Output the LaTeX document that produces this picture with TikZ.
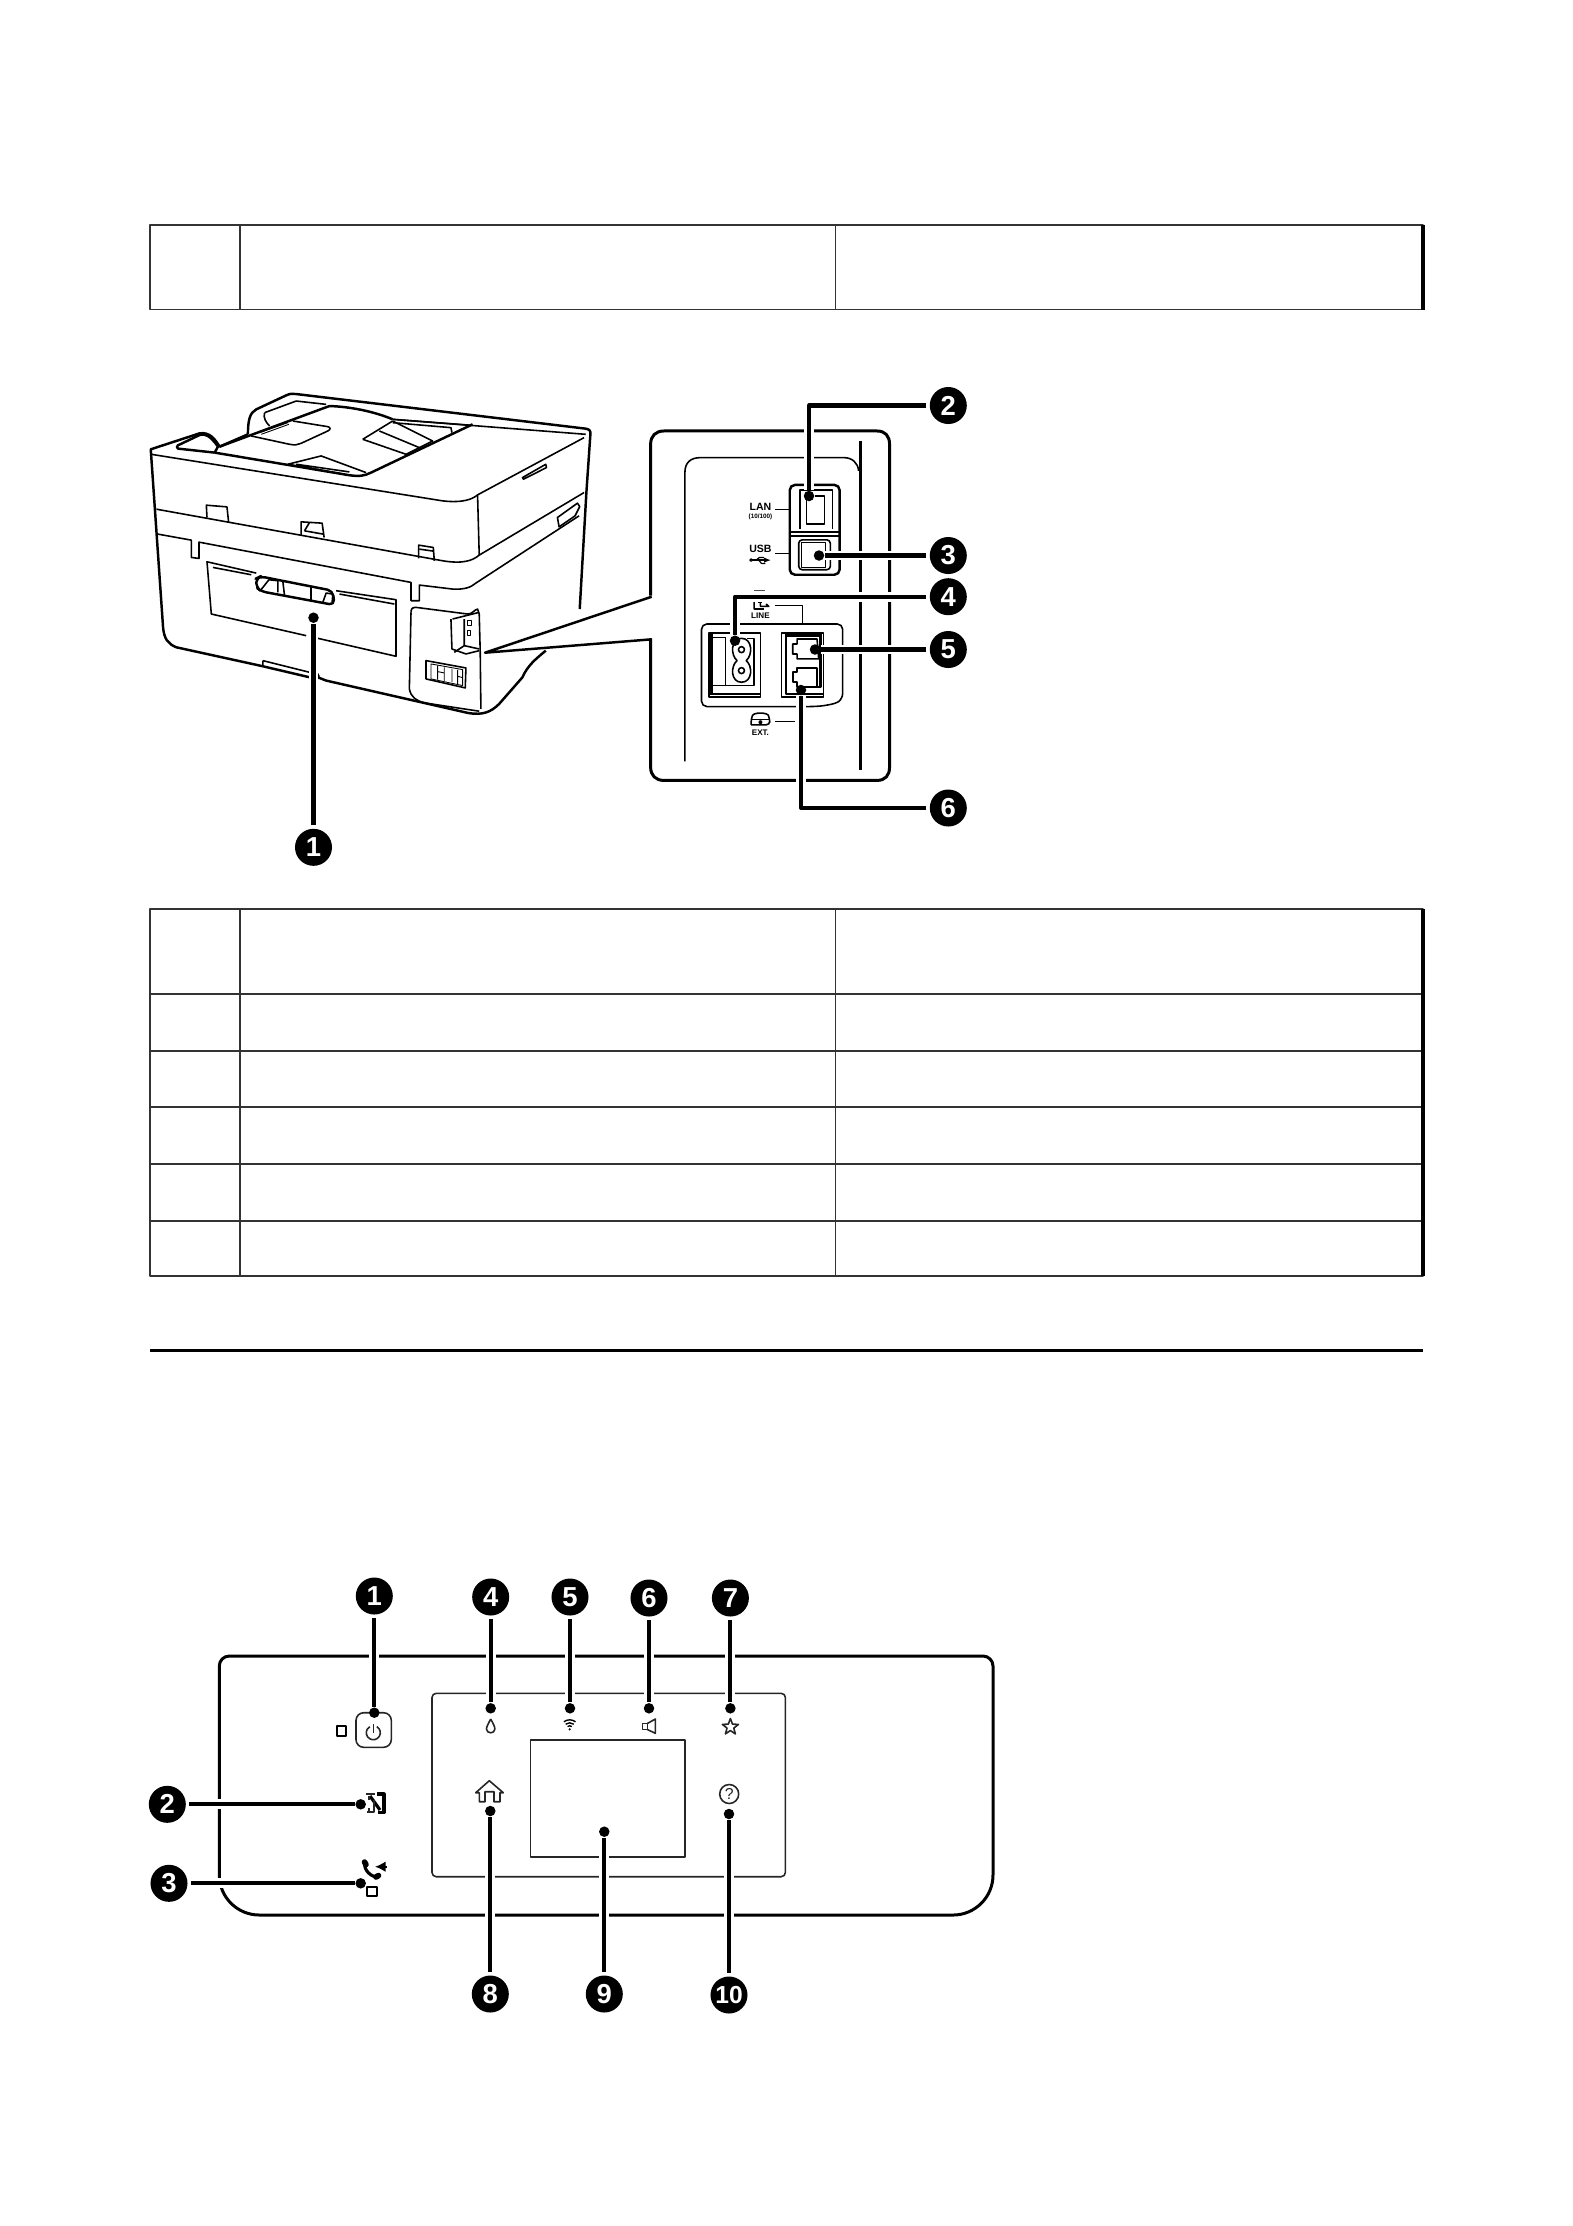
\documentclass[tikz,border=0pt]{standalone}
\usepackage{fontspec}
\setmainfont{Liberation Sans}
\usetikzlibrary{shapes.geometric, arrows.meta, positioning}

\begin{document}
\begin{tikzpicture}[x=0.01cm, y=-0.01cm, line join=round,
    badge/.style={circle, fill=black, text=white, inner sep=0pt, minimum size=0.37cm, outer sep=1pt, font=\fontsize{7.8}{7.8}\selectfont\bfseries},
    spot/.style={circle, fill=black, inner sep=0pt, minimum size=0.105cm},
    leader/.style={line width=1.15pt, preaction={draw=white, line width=2.8pt}},
    tblline/.style={line width=0.5pt, black!80},
    heavy/.style={line width=0.85pt},
    panelline/.style={line width=0.45pt, black!85},
    prn/.style={line width=0.45pt},
    prnthin/.style={line width=0.25pt},
    prnthick/.style={line width=0.7pt},
    tick/.style={line width=0.35pt},
    portlabel/.style={inner sep=0pt, font=\fontsize{3}{3}\selectfont\bfseries}]
    \useasboundingbox (0,0) rectangle (1573,2226);
    % Tables
    \draw[tblline] (150,224.7) rectangle (1423,309.5);
    \draw[tblline] (239.7,224.7) -- (239.7,309.5) (835.5,224.7) -- (835.5,309.5);
    \draw[tblline] (150,908.7) rectangle (1423,1276.3);
    \foreach \rowy in {994.3,1051,1106.7,1163.7,1220.7} {
        \draw[tblline] (150,\rowy) -- (1423,\rowy);
    }
    \draw[tblline] (239.7,908.7) -- (239.7,1276.3) (835.5,908.7) -- (835.5,1276.3);
    \draw[line width=0.9pt] (1423,224.7) -- (1423,309.5) (1423,908.7) -- (1423,1276.3);
    \draw[line width=0.85pt] (150,1350.5) -- (1423,1350.5);
    % Printer
    \begin{scope}[x=0.003333cm, y=-0.003333cm, shift={(390,1110)}]
        % Outline
        \draw[prnthick] (1352,720) -- (1372,370) -- (1384,195) .. controls (1385,185) and (1382,180) .. (1370,178) -- (500,74) .. controls (490,72) and (480,73) .. (470,78) -- (380,120) .. controls (360,130) and (355,155) .. (355,195);
        \draw[prnthick] (355,195) -- (270,232) .. controls (255,208) and (240,188) .. (210,192) -- (63,240) -- (100,775) .. controls (103,810) and (115,825) .. (140,835) -- (400,892);
        \draw[prnthick] (400,892) -- (540,925);
        \draw[prnthick] (565,925) -- (590,935) -- (1015,1032) .. controls (1060,1040) and (1085,1030) .. (1110,1005) -- (1180,925) .. controls (1195,890) and (1220,870) .. (1250,845);
        % Lid
        \draw[prn] (64,255) -- (940,395) .. controls (1000,402) and (1030,390) .. (1045,377) -- (1365,205);
        \draw[prn] (1045,377) -- (1050,558);
        \draw[prn] (80,420) -- (940,575) .. controls (1000,585) and (1030,575) .. (1050,558) -- (1365,370);
        \draw[prn] (85,495) -- (185,513) -- (185,565) -- (208,568) -- (208,519) -- (845,640) -- (845,695) -- (870,695) -- (870,648) -- (970,660) .. controls (1005,662) and (1025,655) .. (1040,642) -- (1350,440);
        \draw[prn] (790,150) -- (1370,195);
        % Handle on the side
        \draw[prn] (1285,445) -- (1345,402) -- (1352,412) -- (1338,440) -- (1290,473) -- cycle;
        \draw[prn] (1180,325) -- (1250,285) -- (1252,295) -- (1183,330) -- cycle;
        % Document tray
        \draw[prnthick] (255,250) -- (145,238) .. controls (140,235) and (140,230) .. (145,228) -- (210,197) .. controls (225,192) and (240,197) .. (265,232) -- (255,250);
        \draw[prnthick] (255,250) -- (660,318) .. controls (690,322) and (705,320) .. (725,310) -- (1030,165);
        \draw[prnthick] (270,232) -- (600,110) .. controls (660,112) and (730,125) .. (790,150);
        \draw[prn] (790,150) -- (1028,168) (790,160) -- (965,175) -- (968,190);
        \draw[prn] (405,130) -- (500,95) -- (590,105);
        \draw[prn] (405,130) .. controls (400,145) and (410,160) .. (420,170);
        \draw[prnthin] (390,190) -- (475,160) (395,195) -- (478,165);
        \draw[prn] (365,200) -- (480,225) .. controls (495,228) and (505,227) .. (515,222) -- (595,185) .. controls (605,180) and (603,174) .. (595,172) -- (490,155);
        \draw[prn] (700,210) -- (790,155);
        \draw[prn] (700,210) -- (830,255) -- (910,215) -- (790,155);
        \draw[prn] (750,185) -- (870,235);
        \draw[prn] (475,285) -- (575,260) -- (710,310);
        \draw[prn] (475,285) -- (660,318) (500,285) -- (660,308);
        % Tabs
        \draw[prn] (232,445) -- (230,408) -- (292,413) -- (297,460);
        \draw[prn] (515,497) -- (515,458) -- (578,462) -- (584,505);
        \draw[prn] (525,485) -- (540,460);
        \draw[prn] (525,485) -- (582,495);
        \draw[prn] (868,568) -- (868,528) -- (912,535) -- (915,575);
        \draw[prn] (870,540) -- (912,546);
        % Cover and its grip
        \draw[prn] (380,612) -- (232,578) -- (245,735) -- (530,800);
        \draw[prn] (565,808) -- (800,862) -- (800,692) -- (620,665);
        \draw[prn] (250,595) -- (365,617);
        \draw[prn] (630,675) -- (795,705);
        \draw[prnthick, rounded corners=1.5pt] (380,628) -- (392,622) -- (610,665) -- (615,708) -- (395,667) -- (380,655) -- cycle;
        \draw[prn] (392,665) -- (418,632) -- (445,635) -- (445,670);
        \draw[prn] (460,638) -- (465,680);
        \draw[prn] (545,655) -- (545,695);
        \draw[prn] (580,700) -- (590,672) -- (610,675) -- (608,700);
        % Foot
        \draw[prn] (400,875) -- (540,910) (400,875) -- (400,890);
        \draw[prn] (563,912) .. controls (570,918) and (570,925) .. (565,930);
        % Port area
        \draw[prn] (845,730) .. controls (845,718) and (850,715) .. (860,715) -- (1015,735) .. controls (1030,735) and (1035,722) .. (1045,720) -- (1050,735) -- (1053,850) -- (1055,1020);
        \draw[prn] (845,730) -- (840,960) .. controls (845,985) and (860,995) .. (885,1002) -- (1050,1027);
        \draw[prn] (970,750) -- (1050,730);
        \draw[prn] (965,750) -- (968,840) -- (1010,855) -- (1050,845);
        \draw[prn] (1005,750) -- (1005,830) -- (975,850);
        \draw[prn] (1005,830) -- (1050,840);
        \draw[prnthin] (1015,755) rectangle (1028,770) (1015,785) rectangle (1025,800);
        \draw[prn] (890,875) -- (1010,897) -- (1008,957) -- (890,930) -- cycle;
        \draw[prnthin] (905,885) -- (905,930) -- (1000,950) -- (1000,902) -- cycle;
        \draw[prnthin] (925,890) -- (925,932) (925,908) -- (945,912) (945,895) -- (945,936) (968,900) -- (968,940) (985,903) -- (985,945) (985,922) -- (1000,926);
    \end{scope}
    % Wedge to the detail view
    \coordinate (wedgetip) at (485,652.7);
    \coordinate (wedgeup) at (651.7,596.7);
    \coordinate (wedgedown) at (651.7,639.3);
    \draw[prnthick] (wedgeup) -- (wedgetip) -- (wedgedown);
    % Detail of the ports
    \begin{scope}[x=0.003333cm, y=-0.003333cm, shift={(1890,1110)}]
        \draw[heavy] (65,680) -- (65,225) .. controls (65,200) and (80,185) .. (105,185) -- (745,185) .. controls (770,185) and (783,200) .. (783,225) -- (783,1195) .. controls (783,1220) and (770,1235) .. (745,1235) -- (105,1235) .. controls (80,1235) and (65,1220) .. (65,1195) -- (65,808);
        \draw[prn] (168,1178) -- (168,310) .. controls (168,280) and (185,265) .. (215,265) -- (645,265) .. controls (670,265) and (688,280) .. (690,305);
        \draw[prnthick] (696,215) -- (696,1205);
        % LAN and USB
        \draw[prnthick, rounded corners=1.5pt] (483,488) -- (483,347) -- (633,347) -- (633,617) -- (483,617) -- cycle;
        \draw[prnthick] (483,488) -- (633,488);
        \draw[prn] (513,480) -- (513,362) -- (612,362) -- (612,480);
        \draw[prn] (533,385) -- (533,465) -- (588,465) -- (588,380) -- (560,380);
        \draw[prn, rounded corners=1pt] (510,512) rectangle (605,602);
        \draw[prn] (518,520) rectangle (590,595);
        \draw[prn] (483,500) -- (633,500);
        \node[portlabel] (lanlabel) at (395,413) {LAN};
        \node[portlabel, font=\fontsize{1.8}{1.8}\selectfont\bfseries] (lanspeed) at (395,444) {(10/100)};
        \node[portlabel] (usblabel) at (395,538) {USB};
        \node[portlabel, font=\fontsize{2.3}{2.3}\selectfont\bfseries] (linelabel) at (395,740) {LINE};
        \node[portlabel, font=\fontsize{2.3}{2.3}\selectfont\bfseries] (extlabel) at (395,1092) {EXT.};
        \draw[tick] (440,420) -- (483,420);
        \draw[tick] (440,553) -- (483,553);
        \draw[tick] (440,710) -- (522,710) -- (522,765);
        \draw[tick] (440,1058) -- (500,1058);
        % USB mark
        \draw[tick, -{Latex[length=2pt,width=1.5pt]}] (370,573) -- (427,573);
        \draw[tick] (382,573) -- (392,565) -- (405,565) (390,573) -- (398,583) -- (410,583);
        \draw[tick] (367,573) circle[radius=0.012cm];
        % Line mark
        \draw[tick, black!70] (375,665) -- (410,665);
        \draw[prn] (376,692) -- (376,720) -- (405,720) (412,705) -- (420,712) -- (395,712) -- (395,695);
        \fill (388,692) rectangle (400,702);
        % Handset mark
        \draw[prn, rounded corners=1pt] (367,1068) -- (367,1050) .. controls (375,1030) and (415,1030) .. (423,1050) -- (423,1068) -- (367,1068);
        \draw[prn] (367,1052) -- (423,1052);
        \fill (395,1060) circle[radius=0.02cm];
        % Power and phone block
        \draw[prn, rounded corners=1.5pt] (218,765) -- (642,765) -- (642,990) .. controls (620,1005) and (590,1010) .. (560,1013) -- (218,1013) -- cycle;
        \draw[prn] (240,792) -- (240,985) -- (395,985) -- (395,792) -- cycle;
        \draw[prnthick] (248,792) -- (248,978);
        \draw[prn] (248,975) -- (395,975);
        \draw[prn] (248,805) -- (288,805) (290,805) -- (290,950);
        \draw[prn] (248,950) -- (375,950) -- (375,808) -- (355,808);
        \draw[prn] (338,808) .. controls (305,808) and (305,860) .. (325,875) .. controls (305,890) and (305,940) .. (338,940) .. controls (372,940) and (372,890) .. (352,875) .. controls (372,860) and (372,808) .. (338,808);
        \draw[prn] (338,842) circle[radius=0.03cm] (338,905) circle[radius=0.03cm];
        \draw[prn] (458,792) rectangle (585,985);
        \draw[prnthick] (472,792) -- (472,975) -- (585,975);
        \draw[line width=1.1pt] (472,797) -- (575,797);
        \draw[prnthick] (575,795) -- (575,955) -- (555,955);
        \draw[prn] (505,810) -- (565,810) -- (570,870) -- (505,870) -- (505,855) -- (492,855) -- (492,825) -- (505,825) -- cycle;
        \draw[prn] (505,898) -- (565,898) -- (565,955) -- (505,955) -- (505,940) -- (492,940) -- (492,910) -- (505,910) -- cycle;
    \end{scope}
    % Control panel
    \draw[line width=0.85pt] (219.3,1666) arc[start angle=180, end angle=90, radius=0.1cm] -- (983,1656) arc[start angle=90, end angle=0, radius=0.1cm] -- (993,1875) arc[start angle=0, end angle=-90, radius=0.4cm] -- (259.3,1915) arc[start angle=-90, end angle=-180, radius=0.4cm] -- cycle;
    \draw[panelline, rounded corners=1.2pt] (432,1693.3) rectangle (785.4,1876.7);
    \draw[panelline] (530.3,1740) rectangle (685,1856.7);
    % Power button
    \draw[panelline, rounded corners=2.2pt] (356,1712.7) rectangle (391.3,1747.3);
    \draw[panelline] (373.3,1732.7) ++(60:0.07cm) arc[start angle=60, end angle=-240, radius=0.07cm];
    \draw[panelline] (373.3,1724) -- (373.3,1733);
    \draw[line width=0.55pt] (337.3,1726) rectangle (345.7,1735.7);
    % NFC mark
    \draw[line width=0.9pt] (377,1794) -- (384,1794) -- (384,1812.5) -- (378,1812.5);
    \draw[line width=0.9pt] (370,1796) -- (380,1810);
    \draw[panelline] (366,1794) -- (375,1794) (374,1800) -- (374,1812) -- (367,1812);
    \draw[panelline] (369,1796) -- (369,1800) (369,1808) -- (369,1811);
    % Fax mark
    \draw[line width=0.9pt] (365,1862.7) .. controls (363,1870) and (372,1878) .. (379,1877);
    \draw[line width=1.6pt, line cap=round] (364.5,1862) -- (366,1864.5) (376,1877) -- (378.5,1875.5);
    \draw[line width=0.5pt, -{Latex[length=3pt,width=3pt]}] (386.7,1866.7) -- (375,1866.7);
    \draw[line width=0.55pt] (367.3,1886.7) rectangle (376.7,1895.7);
    % Ink drop
    \draw[panelline] (490.7,1719) .. controls (488,1724) and (486.5,1727) .. (486.5,1729) .. controls (486.5,1734) and (494.9,1734) .. (494.9,1729) .. controls (494.9,1727) and (493.4,1724) .. (490.7,1719);
    % Wireless
    \foreach \arcr in {0.035cm,0.065cm,0.095cm} {
        \draw[line width=0.4pt] (569.7,1729.3) ++(52:\arcr) arc[start angle=52, end angle=128, radius=\arcr];
    }
    \fill (569.7,1729.3) circle[radius=0.012cm];
    % Speaker
    \draw[panelline] (642.3,1723.5) rectangle (647.3,1729.5);
    \draw[panelline] (647.3,1723.5) -- (655.4,1719) -- (655.4,1733.3) -- (647.3,1729.5);
    % Favourite
    \node[draw, star, star points=5, star point ratio=2.4, minimum size=0.17cm, inner sep=0pt, panelline] (favstar) at (730.4,1727) {};
    % Home
    \draw[panelline] (489.3,1780.7) -- (503.3,1792.7) -- (500,1792.7) -- (500,1801.7) -- (494,1801.7) -- (494,1791.7) -- (485,1791.7) -- (485,1801.7) -- (479.3,1801.7) -- (479.3,1792.7) -- (475.7,1792.7) -- cycle;
    % Help
    \node[draw, circle, panelline, minimum size=0.19cm, inner sep=0pt, font=\fontsize{4.5}{4.5}\selectfont] (helpmark) at (729.2,1794) {?};
    % Spots
    \node[spot] (rj45) at (809,496) {};
    \node[spot] (usbport) at (819,555.5) {};
    \node[spot] (inlet) at (735,640.7) {};
    \node[spot] (linejack) at (815,649.5) {};
    \node[spot] (extjack) at (801,690) {};
    \node[spot] (cover) at (313.5,617.7) {};
    \node[spot] (powerkey) at (374.3,1712.7) {};
    \node[spot] (nfcmark) at (360.7,1804.3) {};
    \node[spot] (faxkey) at (360.7,1883.3) {};
    \node[spot] (inklight) at (490.7,1708.3) {};
    \node[spot] (wifilight) at (570,1708.3) {};
    \node[spot] (soundkey) at (649,1708.3) {};
    \node[spot] (favkey) at (730.4,1708.3) {};
    \node[spot] (homekey) at (490.3,1811) {};
    \node[spot] (screen) at (604.3,1831.7) {};
    \node[spot] (helpkey) at (729,1814) {};
    % Numbers on the printer
    \node[badge] (p1) at (313.5,847.3) {1};
    \node[badge] (p2) at (948.3,405.5) {2};
    \node[badge] (p3) at (948.3,555.5) {3};
    \node[badge] (p4) at (948.3,596.7) {4};
    \node[badge] (p5) at (948.3,649.5) {5};
    \node[badge] (p6) at (948.3,808) {6};
    \draw[leader] (p1) -- (cover);
    \draw[leader] (p2) -| (rj45);
    \draw[leader] (p3) -- (usbport);
    \draw[leader] (p4) -| (inlet);
    \draw[leader] (p5) -- (linejack);
    \draw[leader] (p6) -| (extjack);
    % Numbers on the panel
    \node[badge] (k1) at (374.3,1596) {1};
    \node[badge] (k2) at (167.3,1804.3) {2};
    \node[badge] (k3) at (169,1883.3) {3};
    \node[badge] (k4) at (490.7,1597) {4};
    \node[badge] (k5) at (570,1597) {5};
    \node[badge] (k6) at (649,1598) {6};
    \node[badge] (k7) at (730.4,1598) {7};
    \node[badge] (k8) at (490.3,1994) {8};
    \node[badge] (k9) at (604.3,1994) {9};
    \node[badge, font=\fontsize{7}{7}\selectfont\bfseries] (k10) at (729,1995) {10};
    \draw[leader] (k1) -- (powerkey);
    \draw[leader] (k2) -- (nfcmark);
    \draw[leader] (k3) -- (faxkey);
    \draw[leader] (k4) -- (inklight);
    \draw[leader] (k5) -- (wifilight);
    \draw[leader] (k6) -- (soundkey);
    \draw[leader] (k7) -- (favkey);
    \draw[leader] (k8) -- (homekey);
    \draw[leader] (k9) -- (screen);
    \draw[leader] (k10) -- (helpkey);
\end{tikzpicture}
\end{document}
